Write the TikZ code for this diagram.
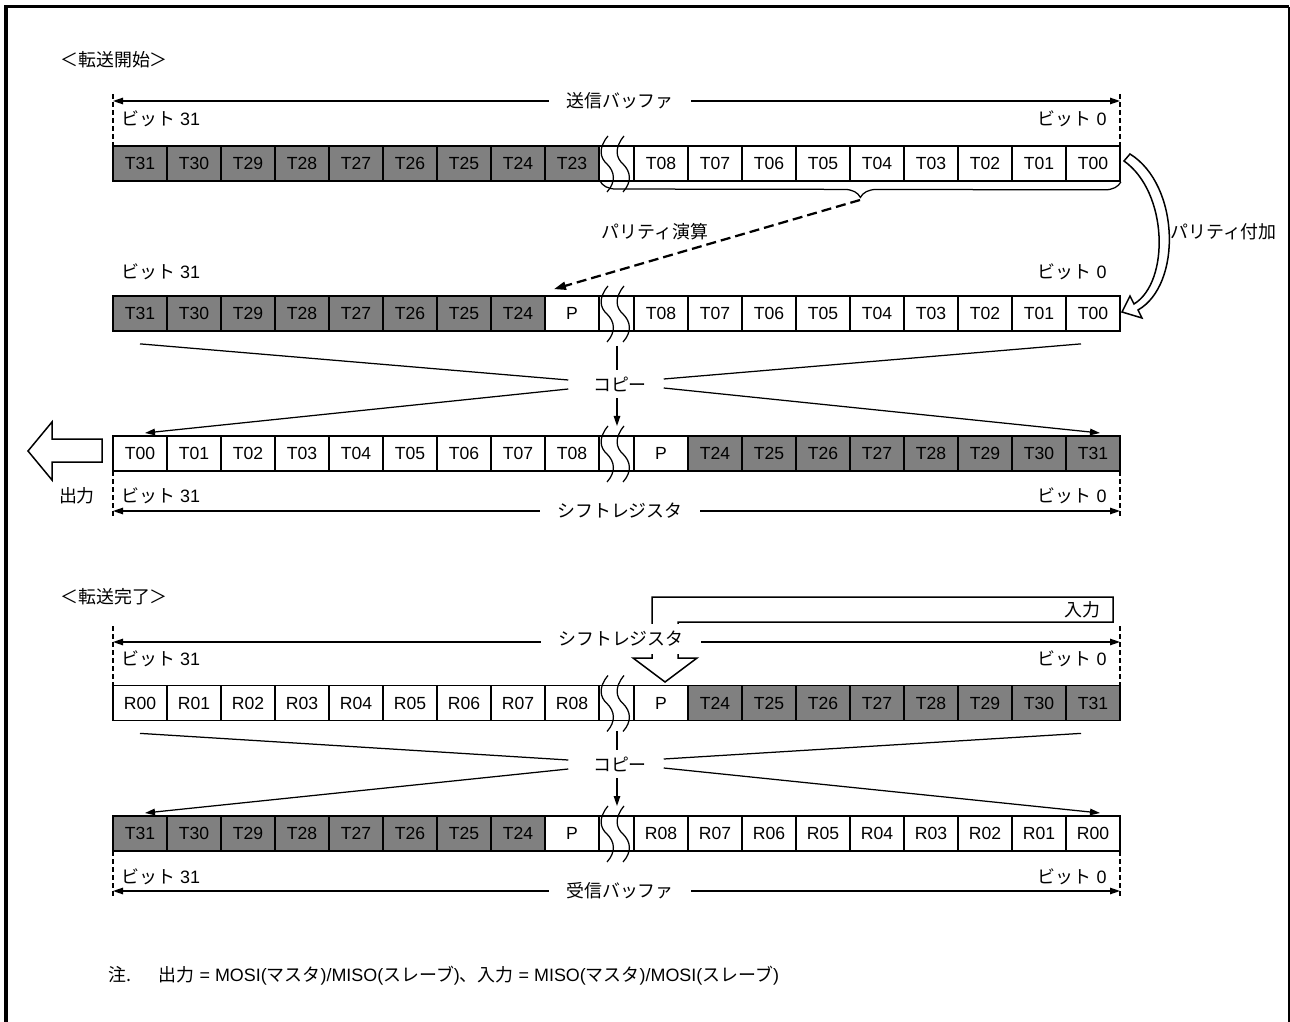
\documentclass[tikz,border=0pt]{standalone}
\usepackage{fontspec}
\setmainfont{Liberation Sans}
\newfontfamily\jp{Noto Sans CJK JP}
\usetikzlibrary{arrows.meta,positioning,calc,decorations.pathreplacing}
\definecolor{bitgray}{HTML}{808080}
\newcommand{\ja}[1]{{\jp #1}}
% break mark between the two halves of a register, #1 = top of the row
\newcommand{\rowbreak}[1]{%
  \begin{scope}[shift={(0,#1)}]
    \draw[thinline] (599,0) -- (634,0) (599,35) -- (634,35);
    \draw[thinline] (608,-10) .. controls (598,2) and (600,12) .. (607,18) .. controls (615,26) and (616,36) .. (607,46);
    \draw[thinline] (624,-10) .. controls (614,2) and (616,12) .. (623,18) .. controls (631,26) and (632,36) .. (623,46);
  \end{scope}}

\begin{document}
\begin{tikzpicture}[x=0.2mm, y=-0.2mm,
  font=\fontsize{10.2pt}{12pt}\selectfont, >={Triangle[length=2mm,width=1.3mm]},
  bit/.style={draw, line width=0.35mm, minimum width=10.8mm, minimum height=7mm, inner sep=0pt,
    font=\fontsize{10pt}{12pt}\selectfont},
  gbit/.style={bit, fill=bitgray},
  wbit/.style={bit, fill=white},
  thinline/.style={line width=0.25mm},
  jtext/.style={font=\fontsize{10.2pt}{12pt}\selectfont\jp, inner sep=0pt},
  gaplbl/.style={jtext, fill=white, inner xsep=3.4mm, inner ysep=1.5mm},
  copylbl/.style={jtext, fill=white, inner xsep=0.5mm, inner ysep=1.4mm},
  edge/.style={thinline, dash pattern=on 1mm off 0.6mm},
  hollow/.style={draw, fill=white, line width=0.3mm, line join=miter},
]
  \useasboundingbox (0,0) rectangle (1290,1022);
  \draw[line width=0.6mm] (6,1022) -- (6,7) -- (1288.5,7);
  \draw[line width=0.4mm] (1288.5,7) -- (1288.5,1022);

  %% ---------------- start of transfer ----------------
  \node[jtext, anchor=west] (hstart) at (60,60) {＜転送開始＞};

  % transmit buffer
  \coordinate (txA) at (113,101);
  \coordinate (txB) at (1120,101);
  \draw[thinline, <->] (txA) -- (txB);
  \node[gaplbl] (txbuf) at (620,101) {送信バッファ};
  \draw[edge] (113,94) -- (113,146);
  \draw[edge] (1120,94) -- (1120,146);
  \node[anchor=west, inner sep=0pt] (tx31) at (121,119) {\ja{ビット} 31};
  \node[anchor=east, inner sep=0pt] (tx0) at (1107,119) {\ja{ビット} 0};

  \foreach \t [count=\i from 0] in {31,30,29,28,27,26,25,24,23}
    \node[gbit] (txL\i) at (140+54*\i,163.5) {T\t};
  \foreach \t [count=\i from 0] in {08,07,06,05,04,03,02,01,00}
    \node[wbit] (txR\i) at (661+54*\i,163.5) {T\t};
  \rowbreak{146}

  % parity calculation
  \draw[thinline, decorate, decoration={brace, amplitude=3.2mm, aspect=0.5}]
    (txR8.south east) -- (600,181) coordinate[pos=0.5] (bmid);
  \coordinate (btip) at (860,200);

  % after parity
  \node[anchor=west, inner sep=0pt] (par31) at (121,272) {\ja{ビット} 31};
  \node[anchor=east, inner sep=0pt] (par0) at (1107,272) {\ja{ビット} 0};
  \foreach \t [count=\i from 0] in {31,30,29,28,27,26,25,24}
    \node[gbit] (parL\i) at (140+54*\i,313.5) {T\t};
  \node[wbit] (parL8) at (572,313.5) {P};
  \foreach \t [count=\i from 0] in {08,07,06,05,04,03,02,01,00}
    \node[wbit] (parR\i) at (661+54*\i,313.5) {T\t};
  \rowbreak{296}

  \draw[line width=0.45mm, dash pattern=on 2mm off 1mm, -{Triangle[length=2.4mm,width=1.6mm]}]
    (btip) -- ($(parL8.north)+(-18,-6)$);
  \node[jtext] (pcalc) at (655,232) {パリティ演算};

  \draw[hollow] (1124,161) -- (1130,154) .. controls (1180,185) and (1182,285) .. (1138,310)
    -- (1142,318) -- (1122,312) -- (1130,296) -- (1134,304)
    .. controls (1170,282) and (1168,192) .. (1124,161) -- cycle;
  \node[jtext, anchor=west] (padd) at (1170,232) {パリティ付加};

  % copy into shift register
  \draw[thinline, ->] (617,346) -- (617,426);
  \node[copylbl] (cp1) at (620,384) {コピー};
  \draw[thinline] ($(parL0.south)+(0,12)$) -- ($(cp1.west)+(-22,-4)$);
  \draw[thinline, ->] ($(cp1.west)+(-22,5)$) -- (145,433);
  \draw[thinline] ($(parR8.south)+(-12,12)$) -- ($(cp1.east)+(14,-5)$);
  \draw[thinline, ->] ($(cp1.east)+(14,4)$) -- (1100,433);

  % shift register
  \foreach \t [count=\i from 0] in {00,01,02,03,04,05,06,07,08}
    \node[wbit] (shL\i) at (140+54*\i,453.5) {T\t};
  \node[wbit] (shR0) at (661,453.5) {P};
  \foreach \t [count=\i from 1] in {24,25,26,27,28,29,30,31}
    \node[gbit] (shR\i) at (661+54*\i,453.5) {T\t};
  \rowbreak{436}

  \draw[hollow] (102,439) -- (52,439) -- (52,422) -- (28,451) -- (52,480) -- (52,462) -- (102,462) -- cycle;
  \node[jtext] (outlbl) at (77,496) {出力};

  \draw[edge] (113,471) -- (113,518);
  \draw[edge] (1120,471) -- (1120,518);
  \node[anchor=west, inner sep=0pt] (sh31) at (121,496) {\ja{ビット} 31};
  \node[anchor=east, inner sep=0pt] (sh0) at (1107,496) {\ja{ビット} 0};
  \coordinate (shA) at (113,511);
  \coordinate (shB) at (1120,511);
  \draw[thinline, <->] (shA) -- (shB);
  \node[gaplbl] (shreg) at (620,511) {シフトレジスタ};

  %% ---------------- end of transfer ----------------
  \node[jtext, anchor=west] (hend) at (60,597) {＜転送完了＞};

  \draw[hollow] (652,658) -- (652,597) -- (1113,597) -- (1113,622) -- (678,622) -- (678,658)
    -- (697,658) -- (665,682) -- (633,658) -- cycle;
  \node[jtext, anchor=east] (inlbl) at (1101,610) {入力};

  \draw[edge] (113,626) -- (113,686);
  \draw[edge] (1120,626) -- (1120,686);
  \coordinate (rsA) at (113,642);
  \coordinate (rsB) at (1120,642);
  \draw[thinline, <->] (rsA) -- (rsB);
  \node[gaplbl] (rsreg) at (621,639) {シフトレジスタ};
  \node[anchor=west, inner sep=0pt] (rs31) at (121,659) {\ja{ビット} 31};
  \node[anchor=east, inner sep=0pt] (rs0) at (1107,659) {\ja{ビット} 0};

  \foreach \t [count=\i from 0] in {00,01,02,03,04,05,06,07,08}
    \node[wbit] (rsL\i) at (140+54*\i,703) {R\t};
  \node[wbit] (rsR0) at (661,703) {P};
  \foreach \t [count=\i from 1] in {24,25,26,27,28,29,30,31}
    \node[gbit] (rsR\i) at (661+54*\i,703) {T\t};
  \rowbreak{685.5}

  % copy into receive buffer
  \draw[thinline, ->] (617,731) -- (617,806);
  \node[copylbl] (cp2) at (620,764) {コピー};
  \draw[thinline] ($(rsL0.south)+(0,12)$) -- ($(cp2.west)+(-22,-4)$);
  \draw[thinline, ->] ($(cp2.west)+(-22,5)$) -- (145,813);
  \draw[thinline] ($(rsR8.south)+(-12,12)$) -- ($(cp2.east)+(14,-5)$);
  \draw[thinline, ->] ($(cp2.east)+(14,4)$) -- (1100,813);

  % receive buffer
  \foreach \t [count=\i from 0] in {31,30,29,28,27,26,25,24}
    \node[gbit] (rxL\i) at (140+54*\i,833.5) {T\t};
  \node[wbit] (rxL8) at (572,833.5) {P};
  \foreach \t [count=\i from 0] in {08,07,06,05,04,03,02,01,00}
    \node[wbit] (rxR\i) at (661+54*\i,833.5) {R\t};
  \rowbreak{816}

  \draw[edge] (113,851) -- (113,898);
  \draw[edge] (1120,851) -- (1120,898);
  \node[anchor=west, inner sep=0pt] (rx31) at (121,877) {\ja{ビット} 31};
  \node[anchor=east, inner sep=0pt] (rx0) at (1107,877) {\ja{ビット} 0};
  \coordinate (rxA) at (113,891);
  \coordinate (rxB) at (1120,891);
  \draw[thinline, <->] (rxA) -- (rxB);
  \node[gaplbl] (rxbuf) at (620,891) {受信バッファ};

  % note
  \node[anchor=west, inner sep=0pt] (note) at (108,976)
    {\ja{注.}\hspace{5.5mm}\ja{出力} = MOSI(\ja{マスタ})/MISO(\ja{スレーブ})\ja{、入力} = MISO(\ja{マスタ})/MOSI(\ja{スレーブ})};
\end{tikzpicture}
\end{document}
